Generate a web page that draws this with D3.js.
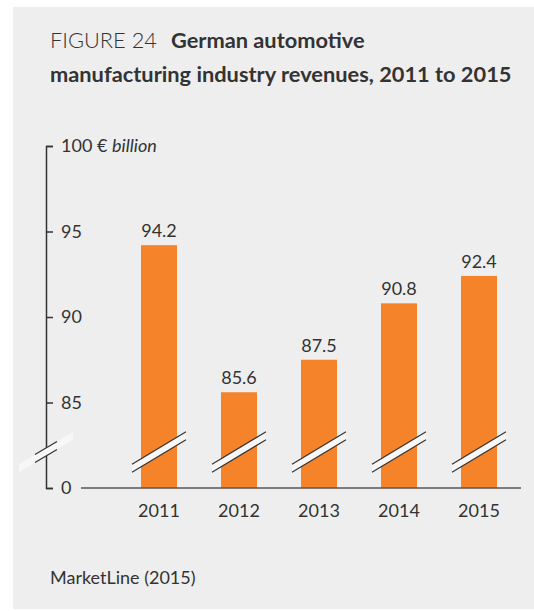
<!DOCTYPE html>
<html>
<head>
<meta charset="utf-8">
<script src="https://cdn.jsdelivr.net/npm/d3@7"></script>
<style>
  body { margin: 0; background: #fff; }
  text { font-family: Lato, "Open Sans", sans-serif; fill: #333; }
</style>
</head>
<body>
<svg id="chart" width="534" height="611"></svg>
<script>
// data
var years = ["2011", "2012", "2013", "2014", "2015"];
var revenues = [94.2, 85.6, 87.5, 90.8, 92.4];
var tickValues = [80, 85, 90, 95, 100];
var tickLabels = ["0", "85", "90", "95", "100"];

var svg = d3.select("#chart");

svg.append("rect")
    .attr("x", 13).attr("y", 7)
    .attr("width", 521).attr("height", 602)
    .attr("fill", "#eeeeee");

// title
var title = svg.append("text")
    .attr("x", 50).attr("y", 48)
    .style("font-size", "21.8px");
title.append("tspan").text("FIGURE 24").style("font-weight", 300);
title.append("tspan").attr("dx", 14).text("German automotive").style("font-weight", 700);
svg.append("text")
    .attr("x", 50).attr("y", 82)
    .style("font-size", "21.8px").style("font-weight", 700)
    .text("manufacturing industry revenues, 2011 to 2015");

var x = d3.scaleBand()
    .domain(years)
    .range([119, 519])
    .paddingInner(0.55)
    .paddingOuter(0.275);

var y = d3.scaleLinear()
    .domain([80, 100])
    .range([488, 146]);

var axisX = 46, baseY = y(80);

// bars
svg.selectAll(".bar")
    .data(years)
  .enter().append("rect")
    .attr("class", "bar")
    .attr("x", function(d) { return x(d); })
    .attr("width", x.bandwidth())
    .attr("y", function(d, i) { return y(revenues[i]); })
    .attr("height", function(d, i) { return baseY - y(revenues[i]); })
    .attr("fill", "#f5832a");

svg.selectAll(".val")
    .data(years)
  .enter().append("text")
    .attr("class", "val")
    .attr("x", function(d) { return x(d) + x.bandwidth() / 2; })
    .attr("y", function(d, i) { return y(revenues[i]) - 8; })
    .attr("text-anchor", "middle")
    .style("font-size", "18px")
    .text(function(d, i) { return revenues[i].toFixed(1); });

// baseline
svg.append("line")
    .attr("x1", 81).attr("x2", 521)
    .attr("y1", baseY).attr("y2", baseY)
    .attr("stroke", "#555").attr("stroke-opacity", 0.75)
    .attr("stroke-width", 2);

// y axis
var yAxis = svg.append("g")
    .attr("transform", "translate(" + axisX + ",0)")
    .call(d3.axisRight(y)
        .tickValues(tickValues)
        .tickSize(7)
        .tickPadding(8)
        .tickFormat(function(d, i) { return tickLabels[i]; }));
yAxis.select(".domain").attr("stroke", "#333").attr("stroke-width", 1.5);
yAxis.selectAll(".tick line").attr("stroke", "#333").attr("stroke-width", 1.5);
yAxis.selectAll(".tick text")
    .style("font-size", "18px")
    .style("font-family", "Lato, sans-serif")
    .attr("fill", "#333");
var topLabel = yAxis.selectAll(".tick").filter(function(d) { return d === 100; }).select("text");
topLabel.append("tspan").text(" € ");
topLabel.append("tspan").text("billion").style("font-style", "italic");

// x labels
svg.selectAll(".year")
    .data(years)
  .enter().append("text")
    .attr("class", "year")
    .attr("x", function(d) { return x(d) + x.bandwidth() / 2; })
    .attr("y", 517)
    .attr("text-anchor", "middle")
    .style("font-size", "18px")
    .text(function(d) { return d; });

// break marks
var breakY = 452, slope = -0.6, gap = 4;
function pt(cx, dx, off) {
  return [cx + dx, breakY + off + slope * dx];
}
function drawBreak(cx, half, lineHalf) {
  var g = svg.append("g");
  g.append("polygon")
    .attr("points", [pt(cx, -half, -gap), pt(cx, half, -gap), pt(cx, half, gap), pt(cx, -half, gap)]
      .map(function(p) { return p.join(","); }).join(" "))
    .attr("fill", "#f7f7f7");
  [-gap, gap].forEach(function(off) {
    var a = pt(cx, -lineHalf, off), b = pt(cx, lineHalf, off);
    g.append("line")
      .attr("x1", a[0]).attr("y1", a[1])
      .attr("x2", b[0]).attr("y2", b[1])
      .attr("stroke", "#333").attr("stroke-width", 1.2);
  });
}
drawBreak(axisX, 27, 11);
years.forEach(function(d) {
  drawBreak(x(d) + x.bandwidth() / 2, 27, 27);
});

// source
svg.append("text")
    .attr("x", 50).attr("y", 584)
    .style("font-size", "18px")
    .text("MarketLine (2015)");
</script>
</body>
</html>
